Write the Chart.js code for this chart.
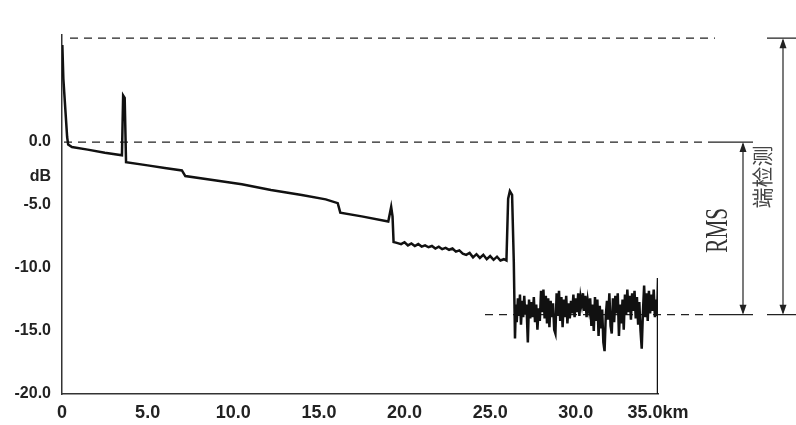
<!DOCTYPE html>
<html>
<head>
<meta charset="utf-8">
<script src="https://cdn.jsdelivr.net/npm/chart.js@4.4.1/dist/chart.umd.min.js"></script>
<style>
  html, body { margin: 0; padding: 0; background: #fff; }
  #wrap { width: 796px; height: 425px; }
</style>
</head>
<body>
<div id="wrap"><canvas id="otdr"></canvas></div>
<script>
// OTDR trace: fibre part up to the end reflection, distance in km, level in dB
const fiberKm = [
  0.02, 0.08, 0.30, 0.36, 0.58, 1.5, 2.5, 3.50, 3.57, 3.66, 3.74,
  5.0, 6.0, 7.0, 7.2, 9.0, 10.5, 12.2, 14.0, 15.4, 16.1, 16.25, 17.5, 19.05,
  19.22, 19.3, 19.36,
  19.55, 19.8, 20.0, 20.2, 20.4, 20.6, 20.8, 21.0, 21.2, 21.4, 21.6, 21.8, 22.0,
  22.2, 22.4, 22.6, 22.8, 23.0, 23.2, 23.4, 23.6, 23.8, 24.0, 24.2, 24.4, 24.6,
  24.8, 25.0, 25.2, 25.4, 25.6, 25.8, 25.95,
  26.05, 26.15, 26.28, 26.38
];
const fiberDb = [
  7.7, 5.0, 0.4, -0.2, -0.4, -0.6, -0.85, -1.05, 3.7, 3.5, -1.6,
  -1.85, -2.05, -2.25, -2.7, -3.05, -3.35, -3.8, -4.2, -4.55, -4.85, -5.6, -5.9, -6.3,
  -5.15, -5.9, -7.94,
  -8.0, -8.1, -7.95, -8.2, -8.05, -8.25, -8.1, -8.3, -8.2, -8.35, -8.25, -8.45, -8.3,
  -8.5, -8.4, -8.55, -8.45, -8.7, -8.6, -8.85, -8.95, -8.8, -9.15, -8.9, -9.2, -8.95,
  -9.3, -9.05, -9.35, -9.1, -9.4, -9.3, -9.4,
  -4.5, -3.9, -4.2, -9.5
];

// noise floor after the fibre end
const noiseKm = [
  26.45, 26.50, 26.55, 26.62, 26.68, 26.74, 26.80, 26.87, 26.93, 26.99, 27.05,
  27.12, 27.20, 27.27, 27.34, 27.41, 27.48, 27.55, 27.62, 27.69, 27.76, 27.83,
  27.90, 27.97, 28.04, 28.11, 28.18, 28.25, 28.32, 28.39, 28.46, 28.53, 28.60,
  28.67, 28.74, 28.81, 28.88, 28.95, 29.02, 29.09, 29.16, 29.23, 29.30, 29.37,
  29.44, 29.51, 29.58, 29.65, 29.72, 29.79, 29.86, 29.93, 30.00, 30.07, 30.14,
  30.21, 30.28, 30.35, 30.42, 30.49, 30.56, 30.63, 30.70, 30.77, 30.84, 30.91,
  30.98, 31.05, 31.12, 31.19, 31.26, 31.33, 31.40, 31.47, 31.54, 31.61, 31.68,
  31.75, 31.82, 31.89, 31.96, 32.03, 32.10, 32.17, 32.24, 32.31, 32.38, 32.45,
  32.52, 32.59, 32.66, 32.73, 32.80, 32.87, 32.94, 33.01, 33.08, 33.15, 33.22,
  33.29, 33.36, 33.43, 33.50, 33.57, 33.64, 33.71, 33.78, 33.85, 33.92, 33.99,
  34.06, 34.13, 34.20, 34.27, 34.34, 34.41, 34.48, 34.55, 34.62, 34.69, 34.75,
  34.80, 34.80
];
const noiseDb = [
  -15.6, -12.9, -14.3, -12.4, -13.8, -12.1, -14.5, -12.6, -13.9, -12.2, -13.7,
  -12.9, -15.9, -12.5, -14.0, -12.7, -13.9, -12.3, -14.3, -12.9, -14.9, -13.2,
  -14.2, -11.8, -13.5, -11.7, -14.0, -12.2, -14.4, -12.4, -14.7, -12.6, -13.9,
  -12.8, -14.9, -15.2, -12.0, -13.8, -11.8, -14.2, -12.3, -14.7, -12.5, -13.9,
  -12.2, -14.4, -12.8, -14.0, -12.6, -13.6, -12.1, -13.9, -12.4, -13.5, -12.0,
  -13.8, -12.3, -12.9, -12.0, -13.4, -12.2, -13.9, -12.6, -13.3, -12.4, -14.6,
  -12.9, -15.0, -12.3, -14.2, -12.5, -15.4, -13.0, -14.8, -13.3, -15.9, -16.6,
  -13.8, -12.6, -14.1, -12.0, -14.6, -15.2, -12.4, -14.3, -12.2, -13.6, -12.0,
  -15.4, -12.9, -14.4, -12.5, -14.9, -12.1, -13.7, -11.7, -13.5, -12.2, -14.1,
  -12.0, -13.4, -11.8, -14.0, -12.3, -14.5, -12.7, -15.0, -16.4, -13.5, -11.4,
  -13.9, -12.0, -14.2, -11.8, -13.6, -12.1, -13.4, -11.7, -13.9, -12.5, -13.8,
  -10.8, -20.0
];

const xTicks = [0, 5, 10, 15, 20, 25, 30, 34.8];
const yTicks = [-20, -15, -10, -5, -2.75, 0];

// reference levels for the dashed guides (top of trace, 0 dB, noise floor)
const topLevel = 8.25;
const zeroLevel = 0;
const floorLevel = -13.7;

const allKm = fiberKm.concat(noiseKm);
const allDb = fiberDb.concat(noiseDb);
const points = allKm.map((d, i) => ({ x: d, y: allDb[i] }));

function arrowHead(ctx, x, y, dir) {
  ctx.beginPath();
  ctx.moveTo(x, y);
  ctx.lineTo(x - 3.5, y - dir * 10);
  ctx.lineTo(x + 3.5, y - dir * 10);
  ctx.closePath();
  ctx.fill();
}

function vArrow(ctx, x, y1, y2) {
  ctx.beginPath();
  ctx.moveTo(x, y1 + 2);
  ctx.lineTo(x, y2 - 2);
  ctx.stroke();
  arrowHead(ctx, x, y1, -1);
  arrowHead(ctx, x, y2, 1);
}

const guides = {
  id: 'guides',
  beforeDatasetsDraw(chart) {
    const ctx = chart.ctx;
    const ys = chart.scales.y;
    const left = chart.chartArea.left;
    const yTop = ys.getPixelForValue(topLevel);
    const yZero = ys.getPixelForValue(zeroLevel);
    const yFloor = ys.getPixelForValue(floorLevel);
    ctx.save();
    ctx.strokeStyle = '#222';
    ctx.lineWidth = 1.3;
    ctx.setLineDash([8, 6]);
    ctx.beginPath();
    ctx.moveTo(left + 8, yTop); ctx.lineTo(715, yTop);
    ctx.moveTo(left + 2, yZero); ctx.lineTo(715, yZero);
    ctx.moveTo(485, yFloor); ctx.lineTo(715, yFloor);
    ctx.stroke();
    ctx.restore();
  },
  afterDraw(chart) {
    const ctx = chart.ctx;
    const ys = chart.scales.y;
    const yTop = ys.getPixelForValue(topLevel);
    const yZero = ys.getPixelForValue(zeroLevel);
    const yFloor = ys.getPixelForValue(floorLevel);
    ctx.save();
    ctx.strokeStyle = '#222';
    ctx.fillStyle = '#222';
    ctx.lineWidth = 1.2;
    ctx.beginPath();
    ctx.moveTo(767, yTop); ctx.lineTo(796, yTop);
    ctx.moveTo(715, yZero); ctx.lineTo(753, yZero);
    ctx.moveTo(715, yFloor); ctx.lineTo(753, yFloor);
    ctx.moveTo(767, yFloor); ctx.lineTo(796, yFloor);
    ctx.stroke();
    vArrow(ctx, 743, yZero, yFloor);
    vArrow(ctx, 783, yTop, yFloor);

    // RMS label, narrow and tall serif
    ctx.save();
    ctx.translate(719, (yZero + yFloor) / 2 + 2);
    ctx.rotate(-Math.PI / 2);
    ctx.scale(0.66, 1);
    ctx.font = '32px "Liberation Serif", serif';
    ctx.textAlign = 'center';
    ctx.textBaseline = 'middle';
    ctx.fillStyle = '#333';
    ctx.fillText('RMS', 0, 0);
    ctx.restore();

    ctx.save();
    ctx.translate(762, 177);
    ctx.rotate(-Math.PI / 2);
    ctx.font = '21px "Noto Sans CJK SC", sans-serif';
    ctx.textAlign = 'center';
    ctx.textBaseline = 'middle';
    ctx.fillStyle = '#444';
    ctx.fillText('端检测', 0, 0);
    ctx.restore();
    ctx.restore();
  }
};

new Chart(document.getElementById('otdr'), {
  type: 'scatter',
  data: {
    datasets: [{
      data: points,
      showLine: true,
      borderColor: '#111',
      borderWidth: 2.5,
      pointRadius: 0,
      tension: 0
    }]
  },
  options: {
    responsive: true,
    maintainAspectRatio: false,
    animation: false,
    layout: { padding: { top: 35, right: 138, left: 0, bottom: 0 } },
    plugins: { legend: { display: false }, tooltip: { enabled: false } },
    scales: {
      x: {
        type: 'linear',
        min: 0,
        max: 34.8,
        afterBuildTicks: (s) => { s.ticks = xTicks.map(v => ({ value: v })); },
        afterFit: (s) => { s.height = 31; },
        grid: { display: false, drawTicks: false },
        border: { color: '#333', width: 1.5 },
        ticks: {
          padding: 8,
          color: '#222',
          font: { family: 'Liberation Sans, Arial', size: 18, weight: 'bold' },
          maxRotation: 0,
          autoSkip: false,
          callback: (v) => v === 0 ? '0' : (v === 34.8 ? '35.0km' : v.toFixed(1))
        }
      },
      y: {
        min: -20,
        max: 8.5,
        afterBuildTicks: (s) => { s.ticks = yTicks.map(v => ({ value: v })); },
        afterFit: (s) => { s.width = 62; },
        grid: { display: false, drawTicks: false },
        border: { color: '#333', width: 1.5 },
        ticks: {
          padding: 11,
          color: '#222',
          font: { family: 'Liberation Sans, Arial', size: 16, weight: 'bold' },
          autoSkip: false,
          callback: (v) => v === -2.75 ? 'dB' : v.toFixed(1)
        }
      }
    }
  },
  plugins: [guides]
});
</script>
</body>
</html>
